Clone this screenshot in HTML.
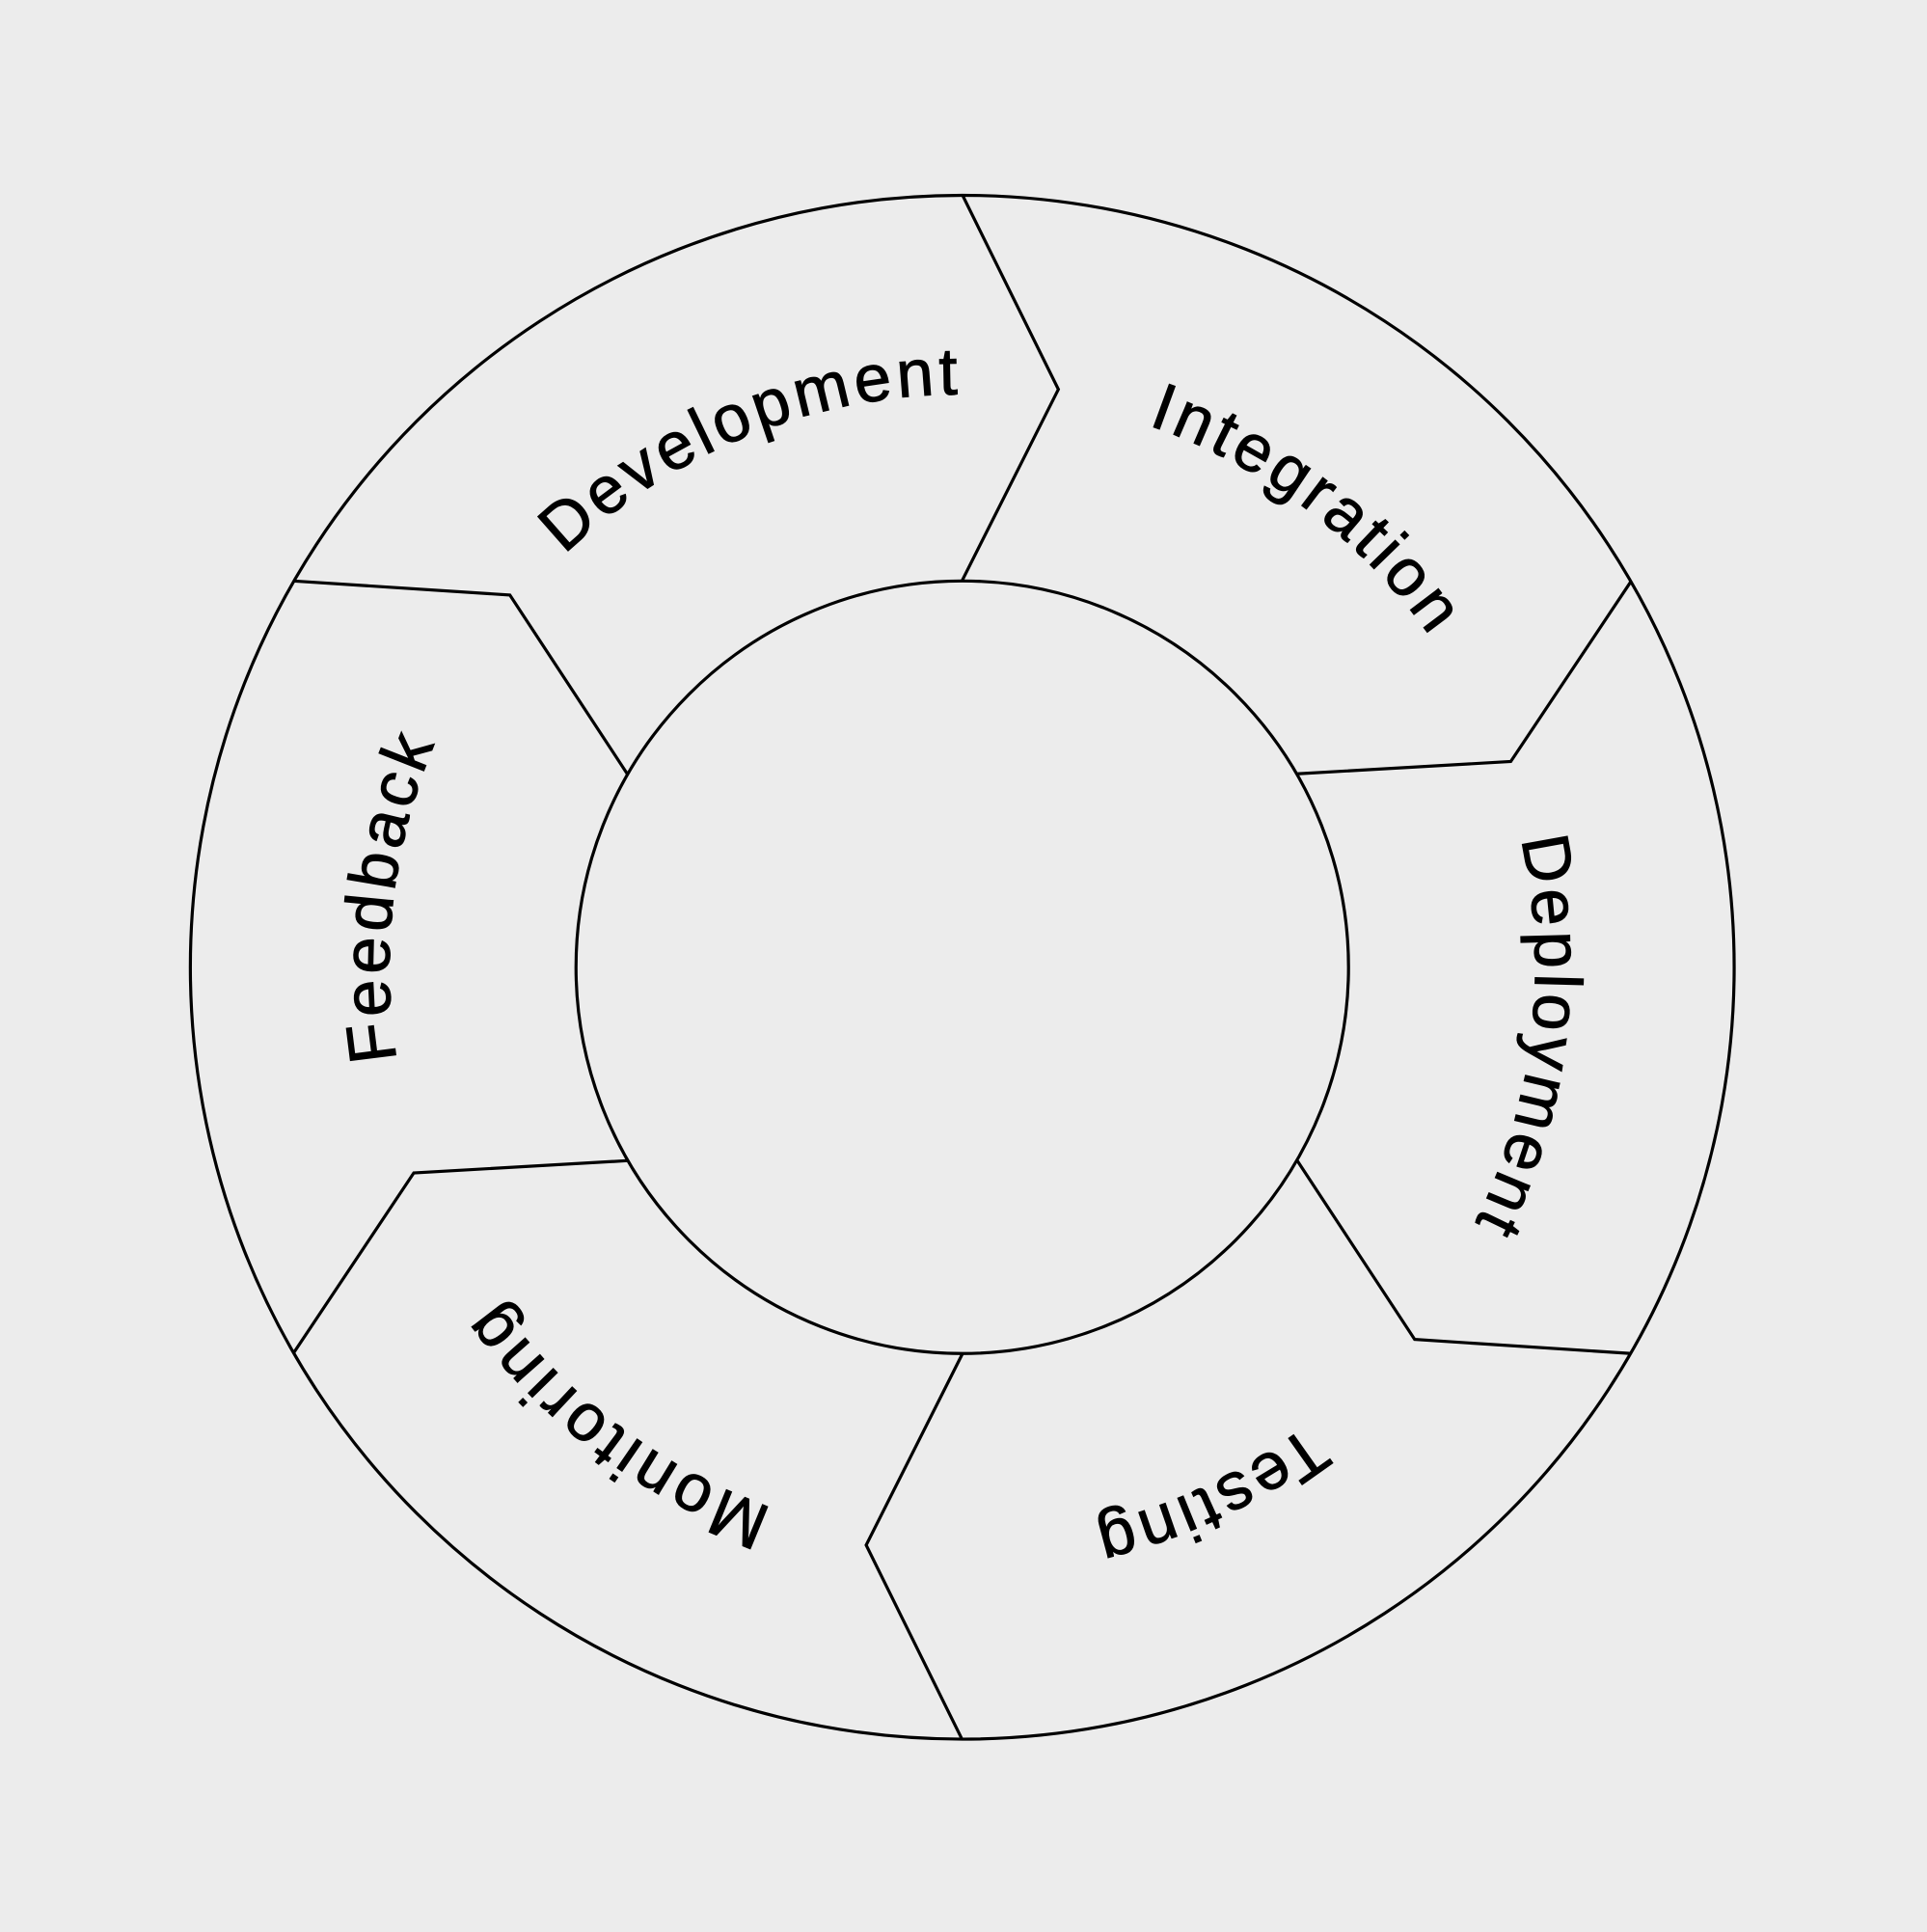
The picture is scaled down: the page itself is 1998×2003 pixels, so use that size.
<!DOCTYPE html>
<html><head><meta charset="utf-8"><style>
html,body{margin:0;padding:0;background:#ececec;}
svg{display:block}
text{font-family:"Liberation Sans",sans-serif;font-size:54px;letter-spacing:3.5px;fill:#000;stroke:#000;stroke-width:0.8}
</style></head><body>
<svg width="1998" height="2003" viewBox="0 0 1564 1568" preserveAspectRatio="none" xmlns="http://www.w3.org/2000/svg">
<defs>
<path id="arc" d="M378.3 552.5 A465 465 0 0 1 1183.7 552.5" fill="none"/>
<g id="div"><polyline points="781,158 859,316 781,471" fill="none" stroke="#000" stroke-width="2.5"/></g>
</defs>
<rect width="1564" height="1568" fill="#ececec"/>
<circle cx="781" cy="785" r="626.5" fill="none" stroke="#000" stroke-width="2.5"/>
<circle cx="781" cy="785" r="313.5" fill="none" stroke="#000" stroke-width="2.5"/>
<use href="#div"/>
<use href="#div" transform="rotate(60 781 785)"/>
<use href="#div" transform="rotate(120 781 785)"/>
<use href="#div" transform="rotate(180 781 785)"/>
<use href="#div" transform="rotate(240 781 785)"/>
<use href="#div" transform="rotate(300 781 785)"/>
<g transform="rotate(-22 781 785)"><text><textPath href="#arc" startOffset="50%" text-anchor="middle">Development</textPath></text></g>
<g transform="rotate(37 781 785)"><text><textPath href="#arc" startOffset="50%" text-anchor="middle">Integration</textPath></text></g>
<g transform="rotate(97 781 785)"><text><textPath href="#arc" startOffset="50%" text-anchor="middle">Deployment</textPath></text></g>
<g transform="rotate(155 781 785)"><text><textPath href="#arc" startOffset="50%" text-anchor="middle">Testing</textPath></text></g>
<g transform="rotate(217 781 785)"><text><textPath href="#arc" startOffset="50%" text-anchor="middle">Monitoring</textPath></text></g>
<g transform="rotate(277 781 785)"><text><textPath href="#arc" startOffset="50%" text-anchor="middle">Feedback</textPath></text></g>
</svg>
</body></html>
